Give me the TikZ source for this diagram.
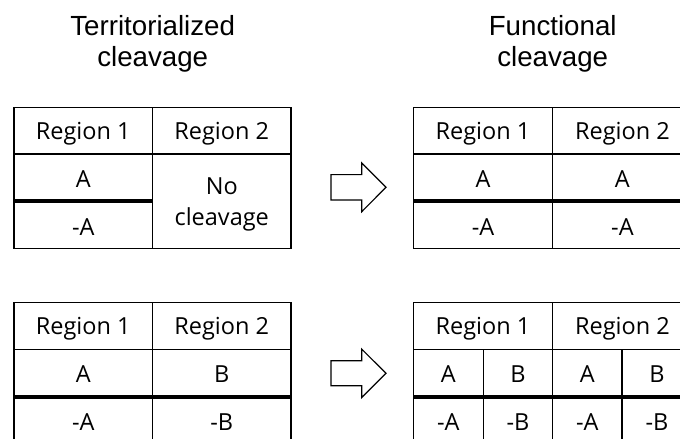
\documentclass[tikz,border=0pt]{standalone}
\usepackage{fontspec}
\setmainfont{Liberation Sans}
\newfontfamily\cellfont{Open Sans}
\usetikzlibrary{calc}

\tikzset{
  heading/.style={font=\fontsize{27.7}{30.5}\selectfont, align=center, inner sep=0pt},
  cell/.style={font=\cellfont\fontsize{23.5}{31}\selectfont, text height=16.8pt, text depth=0pt, inner sep=0pt, anchor=center},
  twoline/.style={font=\cellfont\fontsize{23.5}{31}\selectfont, align=center, inner sep=0pt},
  rule/.style={draw=black, line width=1.3pt},
  cleave/.style={draw=black, line width=4pt},
  pointer/.style={draw=black, line width=1.2pt, fill=white, line join=miter},
}

\begin{document}
\begin{tikzpicture}[x=1pt,y=-1pt]
  \useasboundingbox (0,0) rectangle (680,439);
  \clip (0,0) rectangle (680,439);

  % headings
  \node[heading] (hterr) at (152.7,44) {Territorialized\\cleavage};
  \node[heading] (hfunc) at (552.7,44) {Functional\\cleavage};

  % territorialized, one cleavage
  \coordinate (a) at (14,107.3);
  \draw[rule] (a) rectangle ++(277,141);
  \draw[rule] ($(a)+(0,46.7)$) -- ++(277,0);
  \draw[rule] ($(a)+(138.5,0)$) -- ++(0,141);
  \draw[cleave] ($(a)+(0,94)$) -- ++(138.5,0);
  \node[cell] (a11) at ($(a)+(69.25,23.4)$) {Region 1};
  \node[cell] (a12) at ($(a)+(207.75,23.4)$) {Region 2};
  \node[cell] (a21) at ($(a)+(69.25,71.7)$) {A};
  \node[cell] (a31) at ($(a)+(69.25,119.4)$) {-A};
  \node[twoline] (a22) at ($(a)+(207.75,97)$) {No\\cleavage};

  % functional, one cleavage
  \coordinate (b) at (413.3,107.3);
  \draw[rule] (b) rectangle ++(278.8,141);
  \draw[rule] ($(b)+(0,46.7)$) -- ++(278.8,0);
  \draw[rule] ($(b)+(139.4,0)$) -- ++(0,141);
  \draw[cleave] ($(b)+(0,94)$) -- ++(278.8,0);
  \node[cell] (b11) at ($(b)+(69.7,23.4)$) {Region 1};
  \node[cell] (b12) at ($(b)+(209.1,23.4)$) {Region 2};
  \node[cell] (b21) at ($(b)+(69.7,71.7)$) {A};
  \node[cell] (b22) at ($(b)+(209.1,71.7)$) {A};
  \node[cell] (b31) at ($(b)+(69.7,119.4)$) {-A};
  \node[cell] (b32) at ($(b)+(209.1,119.4)$) {-A};

  % territorialized, two cleavages
  \coordinate (c) at (14,302.3);
  \draw[rule] (c) rectangle ++(277,142);
  \draw[rule] ($(c)+(0,47)$) -- ++(277,0);
  \draw[rule] ($(c)+(138.5,0)$) -- ++(0,142);
  \draw[cleave] ($(c)+(0,94.2)$) -- ++(277,0);
  \node[cell] (c11) at ($(c)+(69.25,23.5)$) {Region 1};
  \node[cell] (c12) at ($(c)+(207.75,23.5)$) {Region 2};
  \node[cell] (c21) at ($(c)+(69.25,72.2)$) {A};
  \node[cell] (c22) at ($(c)+(207.75,72.2)$) {B};
  \node[cell] (c31) at ($(c)+(69.25,119.4)$) {-A};
  \node[cell] (c32) at ($(c)+(207.75,119.4)$) {-B};

  % functional, two cleavages
  \coordinate (d) at (413.3,302.3);
  \draw[rule] (d) rectangle ++(278.8,142);
  \draw[rule] ($(d)+(0,47)$) -- ++(278.8,0);
  \draw[rule] ($(d)+(139.4,0)$) -- ++(0,142);
  \draw[rule] ($(d)+(70,47)$) -- ++(0,95);
  \draw[rule] ($(d)+(208.7,47)$) -- ++(0,95);
  \draw[cleave] ($(d)+(0,94.2)$) -- ++(278.8,0);
  \node[cell] (d11) at ($(d)+(69.7,23.5)$) {Region 1};
  \node[cell] (d12) at ($(d)+(209.1,23.5)$) {Region 2};
  \node[cell] (d21) at ($(d)+(35,72.2)$) {A};
  \node[cell] (d22) at ($(d)+(104.7,72.2)$) {B};
  \node[cell] (d23) at ($(d)+(174,72.2)$) {A};
  \node[cell] (d24) at ($(d)+(243.7,72.2)$) {B};
  \node[cell] (d31) at ($(d)+(35,119.4)$) {-A};
  \node[cell] (d32) at ($(d)+(104.7,119.4)$) {-B};
  \node[cell] (d33) at ($(d)+(174,119.4)$) {-A};
  \node[cell] (d34) at ($(d)+(243.7,119.4)$) {-B};

  % block arrows
  \coordinate (tip1) at (386,187.3);
  \draw[pointer] (tip1) -- ++(-24.3,-24.4) -- ++(0,11.7) -- ++(-30.7,0) -- ++(0,25.4)
    -- ++(30.7,0) -- ++(0,11.7) -- cycle;
  \coordinate (tip2) at (386,373.3);
  \draw[pointer] (tip2) -- ++(-24.3,-24.2) -- ++(0,11.7) -- ++(-30.7,0) -- ++(0,25)
    -- ++(30.7,0) -- ++(0,11.7) -- cycle;
\end{tikzpicture}
\end{document}
